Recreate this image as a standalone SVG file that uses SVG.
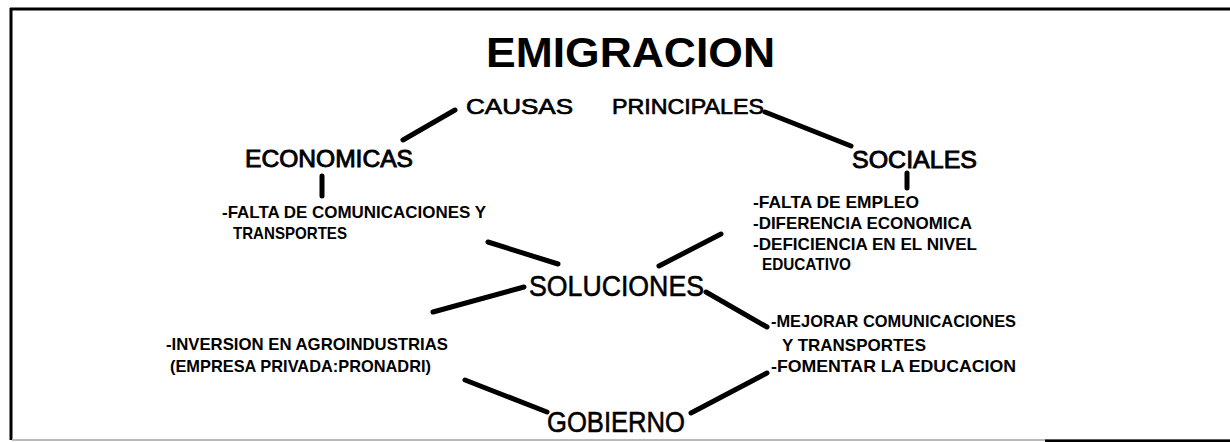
<svg xmlns="http://www.w3.org/2000/svg" width="1230" height="442" viewBox="0 0 1230 442">
<style>
.frame{stroke:#000;stroke-width:3;fill:none}
.frame2{stroke:#bbb;stroke-width:2;fill:none}
.con{stroke:#000;stroke-width:5;stroke-linecap:round;fill:none}
.title{font-family:"Liberation Sans",Arial,sans-serif;font-weight:bold;font-size:43px;fill:#000}
.big{font-family:"Liberation Sans",Arial,sans-serif;font-size:22px;fill:#000;stroke:#000;stroke-width:0.7}
.mid{font-family:"Liberation Sans",Arial,sans-serif;font-size:24px;fill:#000;stroke:#000;stroke-width:0.9}
.hub{font-family:"Liberation Sans",Arial,sans-serif;font-size:30px;fill:#000;stroke:#000;stroke-width:0.6}
.sm{font-family:"Liberation Sans",Arial,sans-serif;font-weight:bold;font-size:17px;fill:#000}
</style>
<rect x="0" y="0" width="1230" height="442" fill="#fff"/>
<g id="frame">
<line class="frame" x1="10" y1="9" x2="1230" y2="9"/>
<line class="frame" x1="11" y1="8" x2="11" y2="440"/>
<line class="frame2" x1="12" y1="440" x2="1230" y2="440"/>
<line class="frame" x1="1045" y1="441" x2="1230" y2="441"/>
</g>
<g id="connectors">
<line class="con" x1="455" y1="110" x2="403" y2="140"/>
<line class="con" x1="765" y1="112" x2="851" y2="146"/>
<line class="con" x1="322" y1="176" x2="322" y2="196"/>
<line class="con" x1="907" y1="173" x2="907" y2="188"/>
<line class="con" x1="488" y1="242" x2="558" y2="264"/>
<line class="con" x1="659" y1="266" x2="721" y2="234"/>
<line class="con" x1="433" y1="312" x2="524" y2="287"/>
<line class="con" x1="706" y1="292" x2="767" y2="327"/>
<line class="con" x1="465" y1="380" x2="547" y2="412"/>
<line class="con" x1="691" y1="413" x2="767" y2="373"/>
</g>
<g id="title"><text class="title" x="486" y="67" textLength="289" lengthAdjust="spacingAndGlyphs">EMIGRACION</text></g>
<g id="causas"><text class="big" x="466" y="114" textLength="107" lengthAdjust="spacingAndGlyphs">CAUSAS</text>
<text class="big" x="612" y="114" textLength="152" lengthAdjust="spacingAndGlyphs">PRINCIPALES</text></g>
<g id="economicas"><text class="mid" x="245" y="167" textLength="168" lengthAdjust="spacingAndGlyphs">ECONOMICAS</text>
<text class="sm" x="222" y="218" textLength="264" lengthAdjust="spacingAndGlyphs">-FALTA DE COMUNICACIONES Y</text>
<text class="sm" x="233" y="239" textLength="114" lengthAdjust="spacingAndGlyphs">TRANSPORTES</text></g>
<g id="sociales"><text class="mid" x="852" y="168" textLength="125" lengthAdjust="spacingAndGlyphs">SOCIALES</text>
<text class="sm" x="753" y="208" textLength="166" lengthAdjust="spacingAndGlyphs">-FALTA DE EMPLEO</text>
<text class="sm" x="753" y="229" textLength="219" lengthAdjust="spacingAndGlyphs">-DIFERENCIA ECONOMICA</text>
<text class="sm" x="753" y="250" textLength="224" lengthAdjust="spacingAndGlyphs">-DEFICIENCIA EN EL NIVEL</text>
<text class="sm" x="762" y="270" textLength="89" lengthAdjust="spacingAndGlyphs">EDUCATIVO</text></g>
<g id="soluciones"><text class="hub" x="529" y="296" textLength="175" lengthAdjust="spacingAndGlyphs">SOLUCIONES</text></g>
<g id="privada"><text class="sm" x="166" y="350" textLength="282" lengthAdjust="spacingAndGlyphs">-INVERSION EN AGROINDUSTRIAS</text>
<text class="sm" x="170" y="372" textLength="261" lengthAdjust="spacingAndGlyphs">(EMPRESA PRIVADA:PRONADRI)</text></g>
<g id="gobierno-acciones"><text class="sm" x="771" y="327" textLength="245" lengthAdjust="spacingAndGlyphs">-MEJORAR COMUNICACIONES</text>
<text class="sm" x="782" y="351" textLength="144" lengthAdjust="spacingAndGlyphs">Y TRANSPORTES</text>
<text class="sm" x="771" y="372" textLength="245" lengthAdjust="spacingAndGlyphs">-FOMENTAR LA EDUCACION</text></g>
<g id="gobierno"><text class="hub" x="547" y="432" textLength="138" lengthAdjust="spacingAndGlyphs">GOBIERNO</text></g>
</svg>
